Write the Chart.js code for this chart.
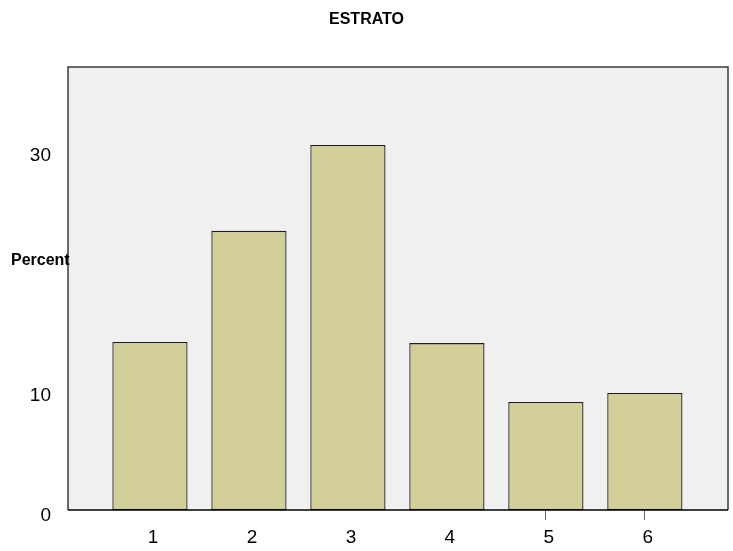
<!DOCTYPE html>
<html>
<head>
<meta charset="utf-8">
<script src="https://cdn.jsdelivr.net/npm/chart.js@4/dist/chart.umd.min.js"></script>
<style>
  html, body { margin: 0; padding: 0; background: #ffffff; }
  #wrap { width: 733px; height: 551px; position: relative; }
</style>
</head>
<body>
<div id="wrap"><canvas id="c"></canvas></div>
<script>
// ESTRATO, percent per stratum
const categories = [1, 2, 3, 4, 5, 6];
const percents   = [14.0, 23.25, 30.4, 13.9, 9.0, 9.75];
const yTicks     = [0, 10, 30];

const FONT = '"Liberation Sans", Arial, sans-serif';
const BAR_FILL = '#d3cf99';
const PLOT_BG  = '#f0f0f0';

// plot background, frame and the free-standing texts
const framePlugin = {
    id: 'frame',
    beforeDraw(chart) {
        const { ctx, chartArea: a } = chart;
        ctx.save();
        ctx.fillStyle = PLOT_BG;
        ctx.fillRect(a.left, a.top, a.right - a.left, a.bottom - a.top);
        ctx.restore();
    },
    afterDraw(chart) {
        const { ctx, chartArea: a } = chart;
        ctx.save();
        ctx.lineWidth = 1.5;
        ctx.strokeStyle = '#3a3a3a';
        ctx.beginPath();
        ctx.moveTo(a.left, a.bottom);
        ctx.lineTo(a.left, a.top);
        ctx.lineTo(a.right, a.top);
        ctx.lineTo(a.right, a.bottom);
        ctx.stroke();
        ctx.strokeStyle = '#000';
        ctx.beginPath();
        ctx.moveTo(a.left, a.bottom);
        ctx.lineTo(a.right, a.bottom);
        ctx.stroke();

        ctx.fillStyle = '#000';
        ctx.font = 'bold 16px ' + FONT;
        ctx.textAlign = 'center';
        ctx.textBaseline = 'alphabetic';
        ctx.fillText('ESTRATO', chart.width / 2, 24);
        ctx.textAlign = 'left';
        ctx.textBaseline = 'middle';
        ctx.fillText('Percent', 11, 261);
        ctx.restore();
    }
};

new Chart(document.getElementById('c'), {
    type: 'bar',
    data: {
        datasets: [{
            label: 'Percent',
            data: categories.map((c, i) => ({ x: c, y: percents[i] })),
            backgroundColor: BAR_FILL,
            borderColor: '#1e1e1e',
            borderWidth: 1.3,
            borderSkipped: false,
            categoryPercentage: 1,
            barPercentage: 0.76
        }]
    },
    plugins: [framePlugin],
    options: {
        responsive: true,
        maintainAspectRatio: false,
        animation: false,
        layout: { padding: { left: 0, right: 5, top: 67, bottom: 0 } },
        plugins: {
            legend: { display: false },
            tooltip: { enabled: false },
            title: { display: false }
        },
        scales: {
            x: {
                type: 'linear',
                offset: false,
                min: 0.172,
                max: 6.84,
                afterBuildTicks: (s) => { s.ticks = categories.map(v => ({ value: v })); },
                afterFit: (s) => { s.height = 41; },
                border: { display: false },
                grid: {
                    offset: false,
                    drawOnChartArea: false,
                    drawTicks: true,
                    tickLength: 10,
                    tickColor: (ctx) => ctx.index >= 4 ? '#666' : 'rgba(0,0,0,0)'
                },
                ticks: {
                    color: '#000',
                    font: { family: FONT, size: 19 },
                    padding: 6,
                    labelOffset: 3,
                    maxRotation: 0,
                    autoSkip: false
                }
            },
            y: {
                min: 0,
                max: 36.9,
                afterBuildTicks: (s) => { s.ticks = yTicks.map(v => ({ value: v })); },
                afterFit: (s) => { s.width = 68; },
                border: { display: false },
                grid: { display: false },
                ticks: {
                    color: '#000',
                    font: { family: FONT, size: 19 },
                    padding: 9,
                    labelOffset: 6
                }
            }
        }
    }
});
</script>
</body>
</html>
